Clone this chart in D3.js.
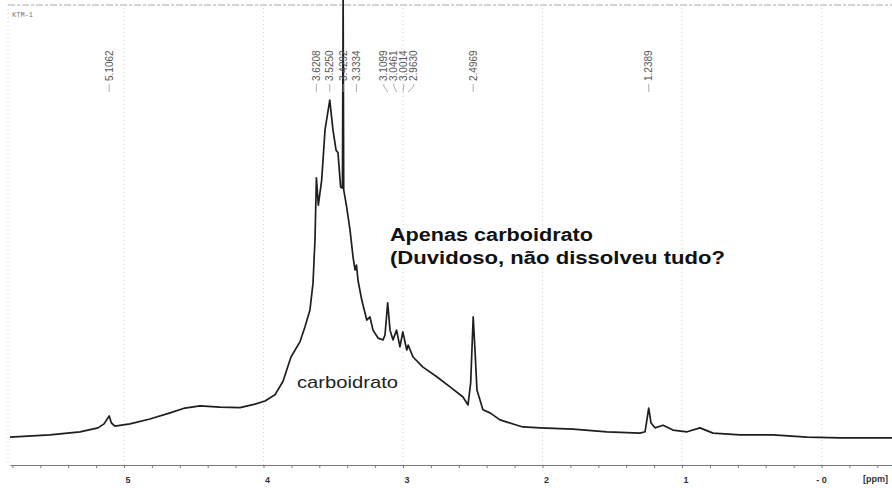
<!DOCTYPE html>
<html>
<head>
<meta charset="utf-8">
<script src="https://cdn.jsdelivr.net/npm/d3@7"></script>
<style>
  body { margin: 0; background: #fff; }
  svg { display: block; }
</style>
</head>
<body>
<div id="chart"></div>
<script>
const width = 892,
height = 488,
margin = { top: 5, bottom: 23, left: 10, right: 0 }

// spectrum: chemical shift (ppm) and intensity (a.u.)
const shifts = [5.817, 5.530, 5.315, 5.186, 5.143, 5.106, 5.090, 5.065, 4.957, 4.814,
  4.670, 4.563, 4.455, 4.312, 4.168, 4.061, 3.989, 3.918, 3.860, 3.803,
  3.738, 3.703, 3.667, 3.645, 3.631, 3.6208, 3.607, 3.583, 3.559, 3.525,
  3.502, 3.480, 3.466, 3.447, 3.434, 3.4292, 3.425, 3.404, 3.380, 3.358,
  3.344, 3.3334, 3.323, 3.296, 3.260, 3.237, 3.215, 3.179, 3.143, 3.129,
  3.1099, 3.093, 3.072, 3.0461, 3.022, 3.0014, 2.973, 2.963, 2.928, 2.857,
  2.758, 2.663, 2.570, 2.534, 2.515, 2.4969, 2.484, 2.470, 2.427, 2.376,
  2.305, 2.254, 2.183, 2.140, 2.018, 1.781, 1.538, 1.301, 1.265, 1.2389,
  1.222, 1.194, 1.136, 1.065, 0.964, 0.871, 0.778, 0.584, 0.348, 0.104,
  -0.133, -0.505]
const intensity = [1.8, 2.3, 3.0, 3.9, 4.8, 6.6, 5.0, 4.3, 4.8, 5.9,
  7.3, 8.4, 8.9, 8.6, 8.5, 9.3, 10.0, 11.4, 14.5, 20.0,
  23.5, 26.8, 30.7, 36.8, 46.6, 60.7, 54.5, 60.2, 71.6, 78.4,
  71.6, 67.0, 66.4, 58.6, 58.4, 101.5, 58.0, 54.1, 48.9, 42.7,
  39.8, 40.9, 37.5, 33.0, 28.4, 29.1, 26.1, 24.3, 23.9, 25.0,
  32.3, 26.1, 23.9, 26.1, 22.3, 25.7, 21.6, 22.7, 20.0, 17.7,
  15.5, 13.2, 10.9, 9.1, 14.1, 29.1, 21.6, 12.5, 8.0, 7.3,
  5.7, 5.2, 4.5, 4.1, 3.9, 3.6, 3.0, 2.7, 3.0, 8.4,
  5.0, 3.9, 4.5, 3.4, 3.0, 3.9, 2.7, 2.3, 2.3, 1.8,
  1.6, 1.6]

// picked peaks
const peakLabels = ["5.1062", "3.6208", "3.5250", "3.4292", "3.3334", "3.1099",
  "3.0461", "3.0014", "2.9630", "2.4969", "1.2389"]

const axisLabels = [5, 4, 3, 2, 1, 0]
const axisLabelText = ["5", "4", "3", "2", "1", "- 0"]

const spectrum = shifts.map((s, i) => ({ ppm: s, value: intensity[i] }))

const x = d3.scaleLinear()
  .domain([5.817, -0.505])
  .range([margin.left, width - margin.right])

const y = d3.scaleLinear()
  .domain([0, 100])
  .range([445, 5])

const axisY = height - margin.bottom   // 465

const svg = d3.select("#chart")
  .append("svg")
  .attr("width", width)
  .attr("height", height)
  .style("font-family", "'Liberation Sans', Arial, sans-serif")

// frame: dashed top, dotted left, dotted grid on whole ppm
svg.append("line")
  .attr("x1", 8).attr("x2", width)
  .attr("y1", 5).attr("y2", 5)
  .attr("stroke", "#a8a8a8")
  .attr("stroke-width", 1)
  .attr("stroke-dasharray", "7,2,3,2")

svg.append("line")
  .attr("x1", 8).attr("x2", 8)
  .attr("y1", 5).attr("y2", axisY)
  .attr("stroke", "#c8c8c8")
  .attr("stroke-dasharray", "1,3")

svg.append("g")
  .selectAll("line")
  .data(axisLabels)
  .join("line")
    .attr("x1", d => x(d)).attr("x2", d => x(d))
    .attr("y1", 8).attr("y2", axisY)
    .attr("stroke", "#d2d2d2")
    .attr("stroke-dasharray", "1,3")

svg.append("text")
  .attr("x", 12)
  .attr("y", 17)
  .attr("font-family", "'Liberation Mono', 'DejaVu Sans Mono', monospace")
  .attr("font-size", 7)
  .attr("fill", "#777")
  .text("KTM-1")

// axis: minor ticks every 0.2 ppm, bold labels on whole ppm
const minorTicks = d3.range(-4, 59, 2).map(d => d / 10)

const axisG = svg.append("g")
  .attr("transform", `translate(0,${axisY})`)
  .call(d3.axisBottom(x).tickValues(minorTicks).tickSize(3).tickSizeOuter(0).tickFormat(""))

axisG.select(".domain").attr("stroke", "#777")
axisG.selectAll(".tick line").attr("stroke", "#777")

svg.append("g")
  .selectAll("text")
  .data(axisLabels)
  .join("text")
    .attr("x", (d, i) => x(d) + (i === 5 ? 0 : 4))
    .attr("y", 483)
    .attr("text-anchor", "middle")
    .attr("font-size", 9)
    .attr("font-weight", "bold")
    .attr("fill", "#333")
    .text((d, i) => axisLabelText[i])

svg.append("text")
  .attr("x", 863)
  .attr("y", 482)
  .attr("font-size", 9)
  .attr("font-weight", "bold")
  .attr("fill", "#333")
  .text("[ppm]")

// spectrum trace
const line = d3.line()
  .x(d => x(d.ppm))
  .y(d => y(d.value))

svg.append("path")
  .datum(spectrum)
  .attr("d", line)
  .attr("fill", "none")
  .attr("stroke", "#1e1e1e")
  .attr("stroke-width", 1.7)
  .attr("stroke-linejoin", "round")

// peak labels, spread so they don't overlap
const minGap = 10
let labels = peakLabels.map(t => ({ text: t, px: x(+t) }))
labels.forEach(d => d.lx = d.px)
let clusters = labels.map(d => [d])
let merged = true
while (merged) {
  merged = false
  for (let i = 0; i < clusters.length - 1; i++) {
    const a = clusters[i], b = clusters[i + 1]
    const lastA = a[a.length - 1].lx, firstB = b[0].lx
    if (firstB - lastA < minGap) {
      const c = a.concat(b)
      const mid = d3.mean(c, d => d.px)
      c.forEach((d, k) => d.lx = mid + (k - (c.length - 1) / 2) * minGap)
      clusters.splice(i, 2, c)
      merged = true
      break
    }
  }
}

const labelG = svg.append("g")

labelG.selectAll("path")
  .data(labels)
  .join("path")
    .attr("d", d => `M${d.lx},84 L${d.lx},86 L${d.px},92`)
    .attr("fill", "none")
    .attr("stroke", "#999")
    .attr("stroke-width", 0.8)

labelG.selectAll("text")
  .data(labels)
  .join("text")
    .attr("transform", d => `translate(${d.lx},81) rotate(-90)`)
    .attr("dy", "0.35em")
    .attr("font-size", 10)
    .attr("fill", "#555")
    .text(d => d.text)

// hand-written notes
svg.append("text")
  .attr("x", 390)
  .attr("y", 241)
  .attr("font-size", 18)
  .attr("font-weight", "bold")
  .attr("fill", "#111")
  .attr("textLength", 203)
  .attr("lengthAdjust", "spacingAndGlyphs")
  .text("Apenas carboidrato")

svg.append("text")
  .attr("x", 390)
  .attr("y", 264)
  .attr("font-size", 18)
  .attr("font-weight", "bold")
  .attr("fill", "#111")
  .attr("textLength", 335)
  .attr("lengthAdjust", "spacingAndGlyphs")
  .text("(Duvidoso, não dissolveu tudo?")

svg.append("text")
  .attr("x", 297)
  .attr("y", 388)
  .attr("font-size", 17)
  .attr("fill", "#222")
  .attr("textLength", 101)
  .attr("lengthAdjust", "spacingAndGlyphs")
  .text("carboidrato")
</script>
</body>
</html>
